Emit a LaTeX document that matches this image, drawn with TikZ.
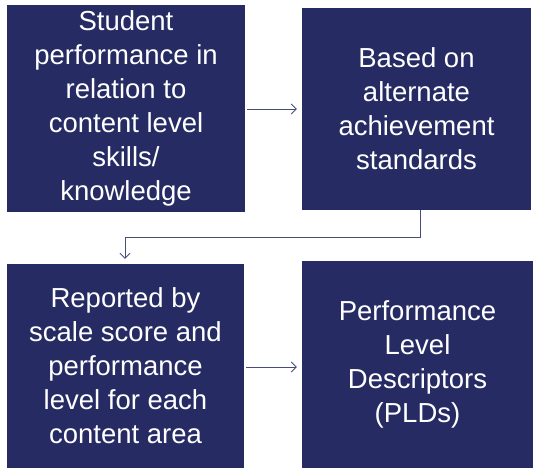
\documentclass[tikz,border=0pt]{standalone}
\usepackage{fontspec}
\setmainfont{Liberation Sans}
\usetikzlibrary{arrows.meta,calc}
\definecolor{navy}{RGB}{38,44,99}

\begin{document}
\begin{tikzpicture}[x=1pt,y=-1pt,
        box/.style = {fill=navy,text=white,align=center,inner sep=0pt,
                      font=\fontsize{27.5}{34}\selectfont},
        link/.style = {navy!85,line width=0.9pt,-{Straight Barb[length=5pt,width=10pt]}}
        ]
        \useasboundingbox (0,0) rectangle (533,468);

        %Kaesten
        \node[box,minimum width=238pt,minimum height=207pt] (perf) at (126,108.5)
            {Student\\performance in\\relation to\\content level\\skills/\\knowledge};
        \node[box,minimum width=229pt,minimum height=202pt] (std) at (416.5,109)
            {Based on\\alternate\\achievement\\standards};
        \node[box,minimum width=237pt,minimum height=204pt] (rep) at (125.5,366)
            {Reported by\\scale score and\\performance\\level for each\\content area};
        \node[box,minimum width=231pt,minimum height=207pt] (pld) at (417.5,364.5)
            {Performance\\Level\\Descriptors\\(PLDs)};

        %Verbindungen
        \draw[link,shorten <=2pt,shorten >=5pt] (perf.east |- 0,109) -- (std.west |- 0,109);
        \coordinate (turn) at (420,237);
        \draw[link,shorten >=5pt] (std.south -| turn) -- (turn) -| (rep.north -| 125,0);
        \draw[link,shorten <=2pt,shorten >=5pt] (rep.east |- 0,367) -- (pld.west |- 0,367);
\end{tikzpicture}
\end{document}
